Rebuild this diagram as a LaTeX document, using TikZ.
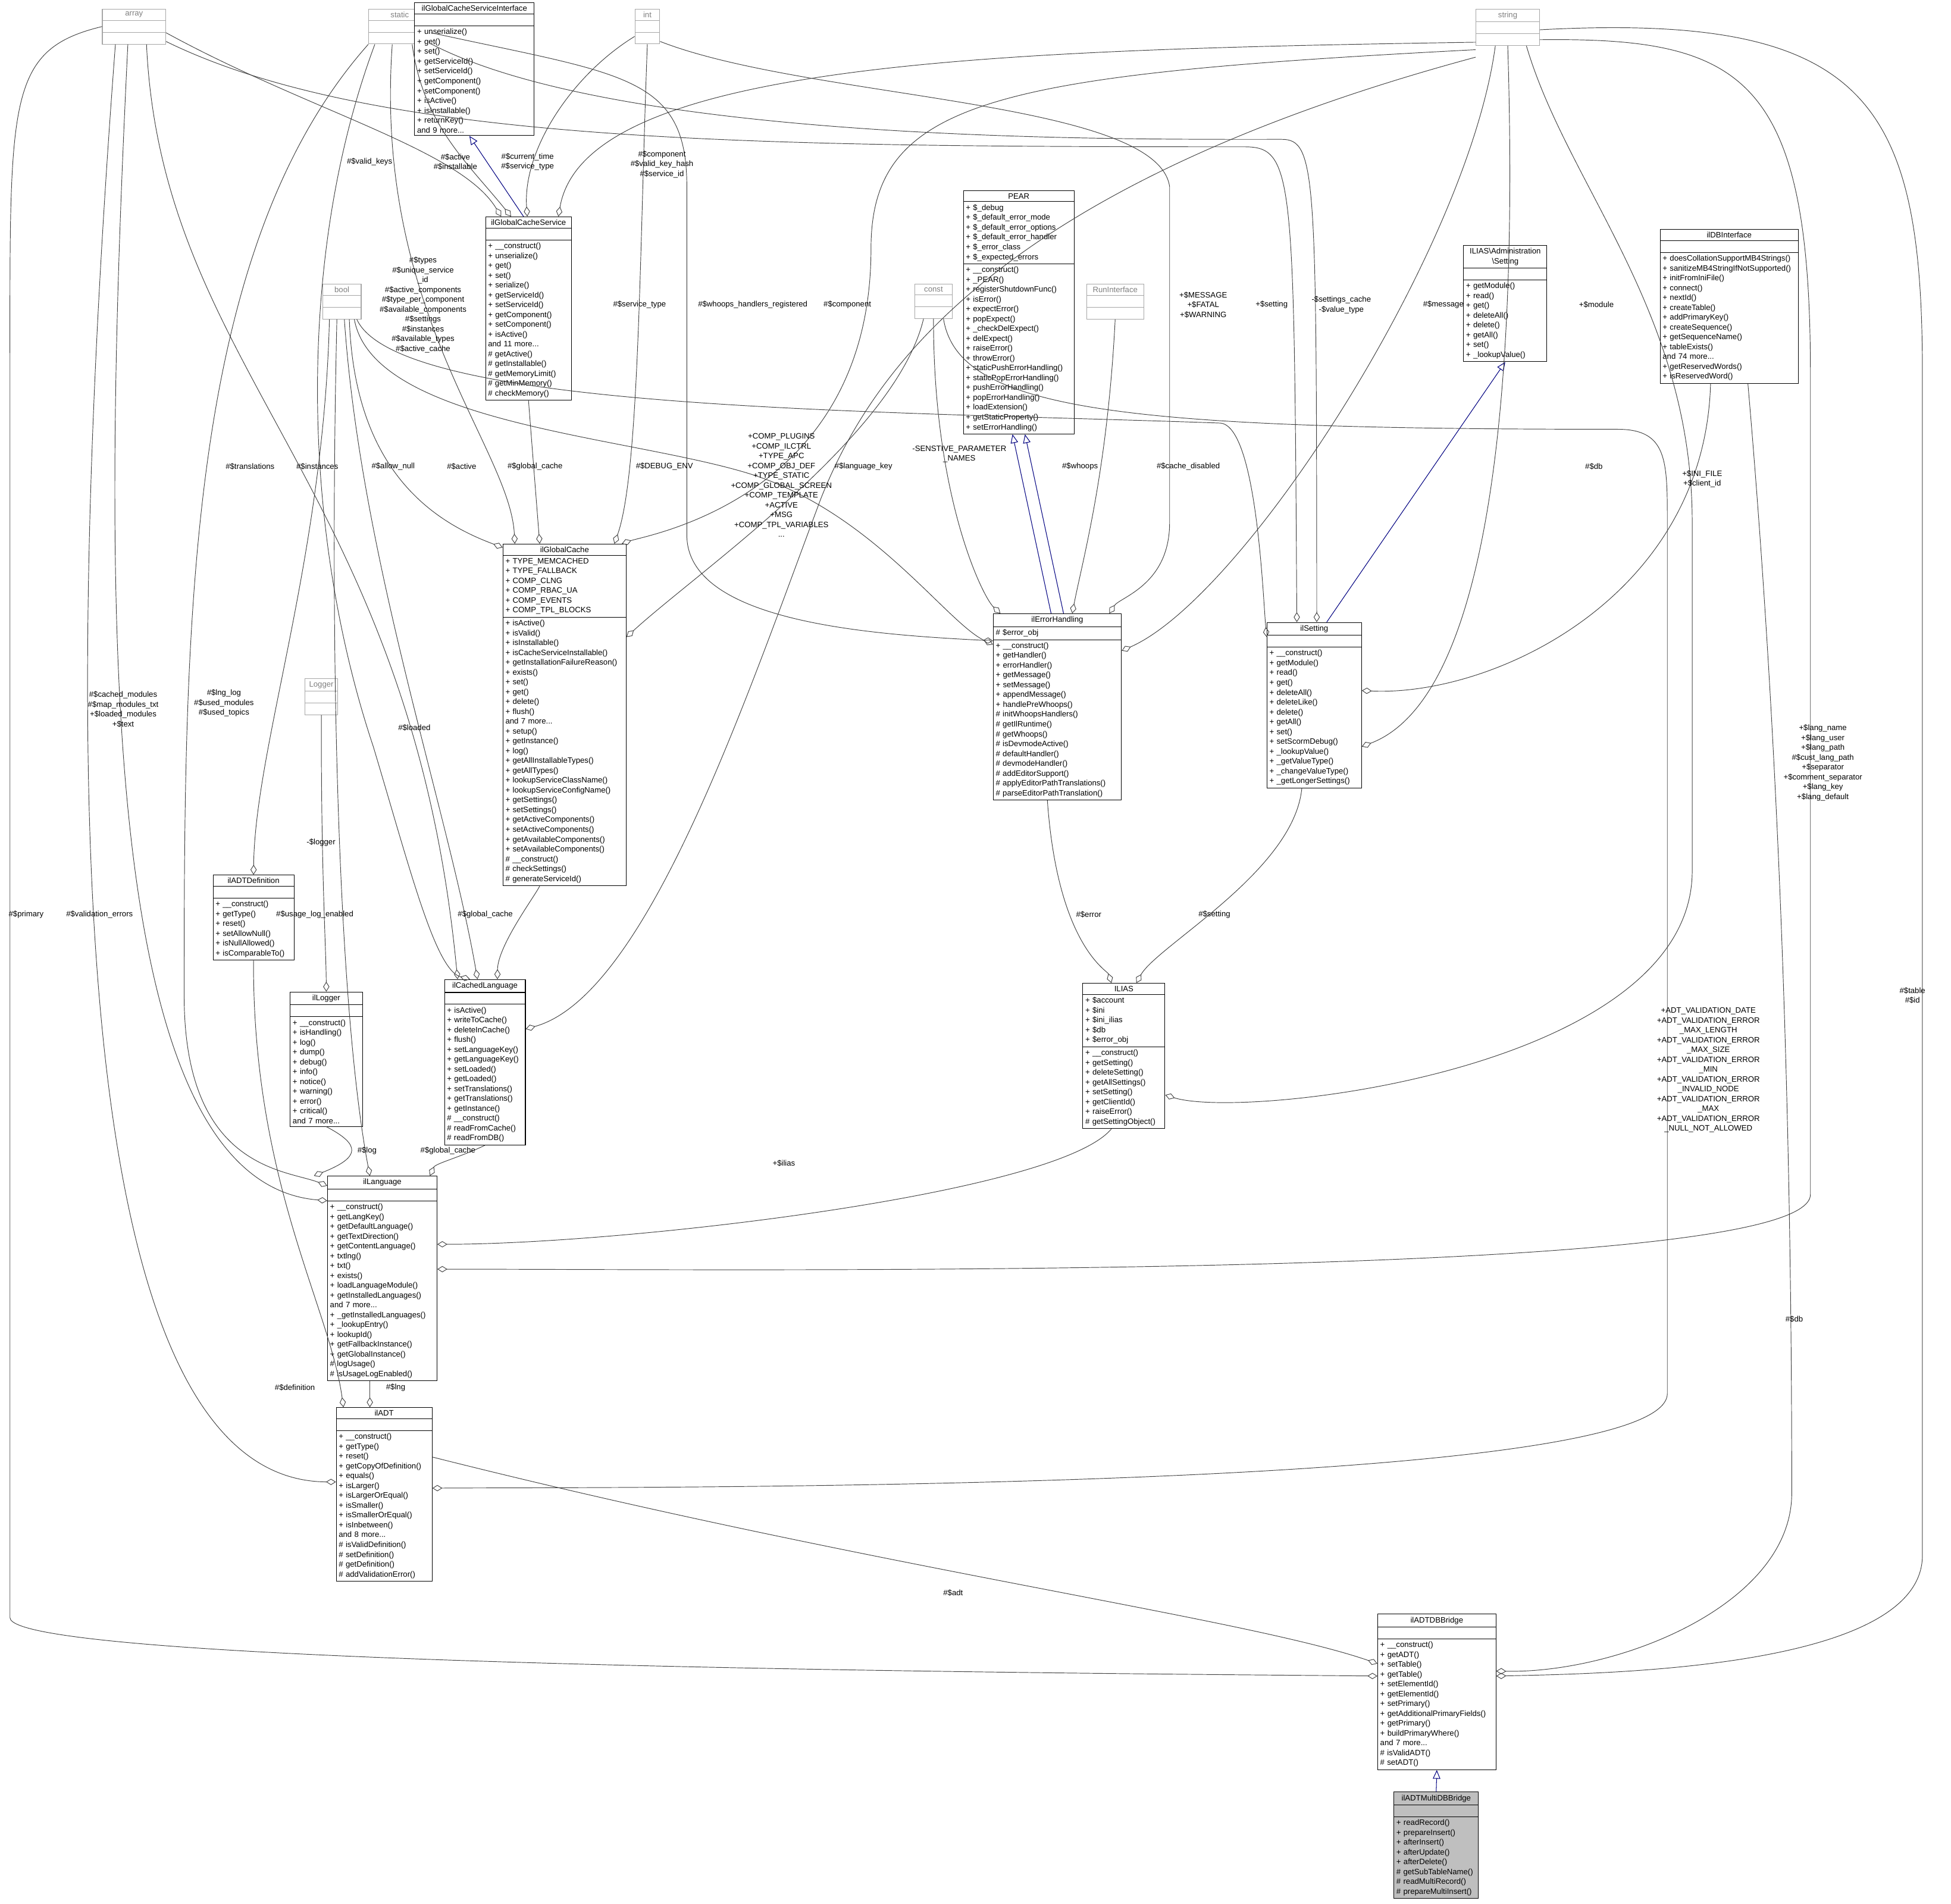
\documentclass[tikz,border=0pt]{standalone}
\usepackage{fontspec}
\setmainfont{Liberation Sans}
\usetikzlibrary{shapes.multipart,arrows.meta}
\newcommand\ttl[1]{\hbox to\hsize{\hss #1\hss}}
\newcommand\emp{\rule{0pt}{5pt}}
\begin{document}
\begin{tikzpicture}[x=1pt,y=-1pt,
 every node/.style={font=\fontsize{6.3}{7.9}\selectfont},
 cls/.style={rectangle split,rectangle split parts=3,draw=black,fill=white,anchor=north west,align=left,inner sep=2pt,line width=0.5pt},
 gcls/.style={cls,draw=gray!70,text=gray},
 agg/.style={draw=black!75,line width=0.45pt,-{Diamond[open,length=8pt,width=5pt]}},
 inh/.style={draw=blue!50!black,line width=0.5pt,-{Triangle[open,length=7pt,width=6pt]}},
 lbl/.style={align=center,inner sep=0pt}]
\useasboundingbox (0,0) rectangle (1568,1530);
% classes
\node[gcls,text width=47pt] (array) at (82,7) {\ttl{array}\nodepart{two}\emp\nodepart{three}\emp};
\node[gcls,text width=46pt] (static) at (296,7) {\ttl{static}\nodepart{two}\emp\nodepart{three}\emp};
\node[gcls,text width=16pt] (int) at (510,7) {\ttl{int}\nodepart{two}\emp\nodepart{three}\emp};
\node[gcls,text width=47pt] (string) at (1186,7) {\ttl{string}\nodepart{two}\emp\nodepart{three}\emp};
\node[gcls,text width=27pt] (bool) at (259,228) {\ttl{bool}\nodepart{two}\emp\nodepart{three}\emp};
\node[gcls,text width=26pt] (const) at (735,228) {\ttl{const}\nodepart{two}\emp\nodepart{three}\emp};
\node[gcls,text width=42pt] (run) at (873,228) {\ttl{RunInterface}\nodepart{two}\emp\nodepart{three}\emp};
\node[gcls,text width=22pt] (logger) at (245,545) {\ttl{Logger}\nodepart{two}\emp\nodepart{three}\emp};
\node[cls,text width=92pt] (gcsi) at (333,2) {\ttl{ilGlobalCacheServiceInterface}\nodepart{two}\emp\nodepart{three}+ unserialize()\\+ get()\\+ set()\\+ getServiceId()\\+ setServiceId()\\+ getComponent()\\+ setComponent()\\+ isActive()\\+ isInstallable()\\+ returnKey()\\and 9 more...};
\node[cls,text width=65pt] (gcs) at (390,174) {\ttl{ilGlobalCacheService}\nodepart{two}\emp\nodepart{three}+ \_\_construct()\\+ unserialize()\\+ get()\\+ set()\\+ serialize()\\+ getServiceId()\\+ setServiceId()\\+ getComponent()\\+ setComponent()\\+ isActive()\\and 11 more...\\\# getActive()\\\# getInstallable()\\\# getMemoryLimit()\\\# getMinMemory()\\\# checkMemory()};
\node[cls,text width=85pt] (pear) at (774,153) {\ttl{PEAR}\nodepart{two}+ \$\_debug\\+ \$\_default\_error\_mode\\+ \$\_default\_error\_options\\+ \$\_default\_error\_handler\\+ \$\_error\_class\\+ \$\_expected\_errors\nodepart{three}+ \_\_construct()\\+ \_PEAR()\\+ registerShutdownFunc()\\+ isError()\\+ expectError()\\+ popExpect()\\+ \_checkDelExpect()\\+ delExpect()\\+ raiseError()\\+ throwError()\\+ staticPushErrorHandling()\\+ staticPopErrorHandling()\\+ pushErrorHandling()\\+ popErrorHandling()\\+ loadExtension()\\+ getStaticProperty()\\+ setErrorHandling()};
\node[cls,text width=63pt] (aset) at (1176,197) {\vbox{\ttl{ILIAS\textbackslash Administration}\ttl{\textbackslash Setting}}\nodepart{two}\emp\nodepart{three}+ getModule()\\+ read()\\+ get()\\+ deleteAll()\\+ delete()\\+ getAll()\\+ set()\\+ \_lookupValue()};
\node[cls,text width=107pt] (db) at (1334,184) {\ttl{ilDBInterface}\nodepart{two}\emp\nodepart{three}+ doesCollationSupportMB4Strings()\\+ sanitizeMB4StringIfNotSupported()\\+ initFromIniFile()\\+ connect()\\+ nextId()\\+ createTable()\\+ addPrimaryKey()\\+ createSequence()\\+ getSequenceName()\\+ tableExists()\\and 74 more...\\+ getReservedWords()\\+ isReservedWord()};
\node[cls,text width=95pt] (gc) at (404,437) {\ttl{ilGlobalCache}\nodepart{two}+ TYPE\_MEMCACHED\\+ TYPE\_FALLBACK\\+ COMP\_CLNG\\+ COMP\_RBAC\_UA\\+ COMP\_EVENTS\\+ COMP\_TPL\_BLOCKS\nodepart{three}+ isActive()\\+ isValid()\\+ isInstallable()\\+ isCacheServiceInstallable()\\+ getInstallationFailureReason()\\+ exists()\\+ set()\\+ get()\\+ delete()\\+ flush()\\and 7 more...\\+ setup()\\+ getInstance()\\+ log()\\+ getAllInstallableTypes()\\+ getAllTypes()\\+ lookupServiceClassName()\\+ lookupServiceConfigName()\\+ getSettings()\\+ setSettings()\\+ getActiveComponents()\\+ setActiveComponents()\\+ getAvailableComponents()\\+ setAvailableComponents()\\\# \_\_construct()\\\# checkSettings()\\\# generateServiceId()};
\node[cls,text width=99pt] (eh) at (798,493) {\ttl{ilErrorHandling}\nodepart{two}\# \$error\_obj\nodepart{three}+ \_\_construct()\\+ getHandler()\\+ errorHandler()\\+ getMessage()\\+ setMessage()\\+ appendMessage()\\+ handlePreWhoops()\\\# initWhoopsHandlers()\\\# getIlRuntime()\\\# getWhoops()\\\# isDevmodeActive()\\\# defaultHandler()\\\# devmodeHandler()\\\# addEditorSupport()\\\# applyEditorPathTranslations()\\\# parseEditorPathTranslation()};
\node[cls,text width=72pt] (set) at (1018,500) {\ttl{ilSetting}\nodepart{two}\emp\nodepart{three}+ \_\_construct()\\+ getModule()\\+ read()\\+ get()\\+ deleteAll()\\+ deleteLike()\\+ delete()\\+ getAll()\\+ set()\\+ setScormDebug()\\+ \_lookupValue()\\+ \_getValueType()\\+ \_changeValueType()\\+ \_getLongerSettings()};
\node[cls,text width=61pt] (adtdef) at (171,703) {\ttl{ilADTDefinition}\nodepart{two}\emp\nodepart{three}+ \_\_construct()\\+ getType()\\+ reset()\\+ setAllowNull()\\+ isNullAllowed()\\+ isComparableTo()};
\node[cls,text width=54pt] (ilog) at (233,797) {\ttl{ilLogger}\nodepart{two}\emp\nodepart{three}+ \_\_construct()\\+ isHandling()\\+ log()\\+ dump()\\+ debug()\\+ info()\\+ notice()\\+ warning()\\+ error()\\+ critical()\\and 7 more...};
\node[cls,text width=61pt] (cl) at (357,787) {\ttl{ilCachedLanguage}\nodepart{two}\emp\nodepart{three}+ isActive()\\+ writeToCache()\\+ deleteInCache()\\+ flush()\\+ setLanguageKey()\\+ getLanguageKey()\\+ setLoaded()\\+ getLoaded()\\+ setTranslations()\\+ getTranslations()\\+ getInstance()\\\# \_\_construct()\\\# readFromCache()\\\# readFromDB()};
\node[cls,text width=62pt] (ias) at (870,790) {\ttl{ILIAS}\nodepart{two}+ \$account\\+ \$ini\\+ \$ini\_ilias\\+ \$db\\+ \$error\_obj\nodepart{three}+ \_\_construct()\\+ getSetting()\\+ deleteSetting()\\+ getAllSettings()\\+ setSetting()\\+ getClientId()\\+ raiseError()\\\# getSettingObject()};
\node[cls,text width=84pt] (lng) at (263,945) {\ttl{ilLanguage}\nodepart{two}\emp\nodepart{three}+ \_\_construct()\\+ getLangKey()\\+ getDefaultLanguage()\\+ getTextDirection()\\+ getContentLanguage()\\+ txtlng()\\+ txt()\\+ exists()\\+ loadLanguageModule()\\+ getInstalledLanguages()\\and 7 more...\\+ \_getInstalledLanguages()\\+ \_lookupEntry()\\+ lookupId()\\+ getFallbackInstance()\\+ getGlobalInstance()\\\# logUsage()\\\# isUsageLogEnabled()};
\node[cls,text width=73pt] (adt) at (270,1131) {\ttl{ilADT}\nodepart{two}\emp\nodepart{three}+ \_\_construct()\\+ getType()\\+ reset()\\+ getCopyOfDefinition()\\+ equals()\\+ isLarger()\\+ isLargerOrEqual()\\+ isSmaller()\\+ isSmallerOrEqual()\\+ isInbetween()\\and 8 more...\\\# isValidDefinition()\\\# setDefinition()\\\# getDefinition()\\\# addValidationError()};
\node[cls,text width=91pt] (br) at (1107,1297) {\ttl{ilADTDBBridge}\nodepart{two}\emp\nodepart{three}+ \_\_construct()\\+ getADT()\\+ setTable()\\+ getTable()\\+ setElementId()\\+ getElementId()\\+ setPrimary()\\+ getAdditionalPrimaryFields()\\+ getPrimary()\\+ buildPrimaryWhere()\\and 7 more...\\\# isValidADT()\\\# setADT()};
\node[cls,fill=gray!50,text width=64pt] (mbr) at (1120,1440) {\ttl{ilADTMultiDBBridge}\nodepart{two}\emp\nodepart{three}+ readRecord()\\+ prepareInsert()\\+ afterInsert()\\+ afterUpdate()\\+ afterDelete()\\\# getSubTableName()\\\# readMultiRecord()\\\# prepareMultiInsert()};
% inheritance
\draw[inh] ([xshift=-4pt]gcs.north) -- ([xshift=-4pt]gcsi.south);
\draw[inh] ([xshift=-5pt]eh.north) -- ([xshift=-5pt]pear.south);
\draw[inh] ([xshift=5pt]eh.north) -- ([xshift=5pt]pear.south);
\draw[inh] ([xshift=10pt]set.north) -- (aset.south);
\draw[inh] (mbr.north) -- (br.south);
% array
\draw[agg] ([yshift=-5pt]array.east) .. controls (250,90) and (370,120) .. ([xshift=-22pt]gcs.north);
\draw[agg] ([yshift=-12pt]array.east) .. controls (300,115) and (600,118) .. (1000,118) .. controls (1040,118) and (1040,140) .. ([xshift=-14pt]set.north);
\draw[agg] ([xshift=10pt]array.south) .. controls (130,300) and (330,390) .. ([xshift=-22pt]cl.north);
\draw[agg] ([xshift=-5pt]array.south) .. controls (80,500) and (80,950) .. ([yshift=-20pt]lng.north west);
\draw[agg] ([xshift=-15pt]array.south) .. controls (50,600) and (50,1190) .. ([yshift=-60pt]adt.north west);
\draw[agg] (array.west) .. controls (5,40) and (8,80) .. (8,300) -- (8,1300) .. controls (8,1340) and (900,1345) .. ([yshift=-50pt]br.north west);
% static
\draw[agg] ([xshift=10pt]static.south) .. controls (340,100) and (375,130) .. ([xshift=-14pt]gcs.north);
\draw[agg] ([xshift=-6pt]static.south) .. controls (300,250) and (410,360) .. ([xshift=-40pt]gc.north);
\draw[agg] ([yshift=-5pt]static.east) .. controls (500,60) and (552,60) .. (552,150) -- (552,430) .. controls (552,500) and (700,510) .. ([yshift=-22pt]eh.north west);
\draw[agg] ([yshift=-14pt]static.east) .. controls (500,115) and (900,112) .. (1030,112) .. controls (1058,112) and (1058,140) .. ([xshift=2pt]set.north);
\draw[agg] ([xshift=-20pt]static.south) .. controls (240,200) and (240,420) .. (300,600) .. controls (330,700) and (350,780) .. ([xshift=-12pt]cl.north);
\draw[agg] (static.south west) .. controls (150,200) and (148,500) .. (148,800) .. controls (148,940) and (230,940) .. ([yshift=-8pt]lng.north west);
% int
\draw[agg] ([yshift=-8pt]int.west) .. controls (460,60) and (420,120) .. ([xshift=-1pt]gcs.north);
\draw[agg] (int.south) .. controls (514,200) and (514,380) .. ([xshift=40pt]gc.north);
\draw[agg] ([yshift=-12pt]int.east) .. controls (650,80) and (930,80) .. (940,150) -- (940,420) .. controls (940,470) and (900,480) .. ([xshift=-10pt]eh.north east);
% string
\draw[agg] ([yshift=-12pt]string.west) .. controls (800,40) and (470,50) .. ([xshift=24pt]gcs.north);
\draw[agg] ([yshift=-18pt]string.west) .. controls (800,60) and (700,80) .. (700,200) .. controls (700,400) and (520,430) .. ([xshift=46pt]gc.north);
\draw[agg] ([xshift=-10pt]string.south) .. controls (1180,200) and (1000,480) .. ([yshift=-30pt]eh.north east);
\draw[agg] (string.south) .. controls (1220,300) and (1200,560) .. ([yshift=-100pt]set.north east);
\draw[agg] ([yshift=-24pt]string.west) .. controls (800,150) and (700,300) .. (660,400) .. controls (600,560) and (520,800) .. ([yshift=-40pt]cl.north east);
\draw[agg] ([xshift=15pt]string.south) .. controls (1260,150) and (1360,250) .. (1360,420) -- (1360,700) .. controls (1360,860) and (1000,900) .. ([yshift=-90pt]ias.north east);
\draw[agg] ([yshift=-10pt]string.east) .. controls (1400,30) and (1455,60) .. (1455,300) -- (1455,960) .. controls (1455,1030) and (600,1020) .. ([yshift=-75pt]lng.north east);
\draw[agg] ([yshift=-2pt]string.east) .. controls (1500,10) and (1545,80) .. (1545,300) -- (1545,1250) .. controls (1545,1340) and (1300,1345) .. ([yshift=-50pt]br.north east);
% bool
\draw[agg] ([xshift=6pt]bool.south) .. controls (285,380) and (350,420) .. ([yshift=-3pt]gc.north west);
\draw[agg] ([xshift=10pt]bool.south) .. controls (300,340) and (500,350) .. (600,380) .. controls (700,410) and (760,500) .. ([yshift=-25pt]eh.north west);
\draw[agg] ([xshift=12pt]bool.south) .. controls (320,330) and (700,330) .. (980,340) .. controls (1010,340) and (1015,480) .. ([yshift=-12pt]set.north west);
\draw[agg] ([xshift=-10pt]bool.south) .. controls (260,450) and (205,600) .. (adtdef.north);
\draw[agg] ([xshift=2pt]bool.south) .. controls (290,450) and (360,650) .. ([xshift=-6pt]cl.north);
\draw[agg] ([xshift=-4pt]bool.south) .. controls (265,500) and (270,800) .. ([xshift=-10pt]lng.north);
% const
\draw[agg] ([xshift=-8pt]const.south) .. controls (720,350) and (560,460) .. ([yshift=-75pt]gc.north east);
\draw[agg] (const.south) .. controls (750,400) and (790,480) .. ([xshift=6pt]eh.north west);
\draw[agg] ([xshift=8pt]const.south) .. controls (770,330) and (900,345) .. (1300,345) .. controls (1340,345) and (1340,370) .. (1340,420) -- (1340,1120) .. controls (1340,1200) and (500,1195) .. ([yshift=-65pt]adt.north east);
% others
\draw[agg] (run.south) .. controls (890,380) and (870,450) .. ([xshift=12pt]eh.north);
\draw[agg] ([xshift=-15pt]db.south) .. controls (1370,480) and (1200,560) .. ([yshift=-55pt]set.north east);
\draw[agg] ([xshift=15pt]db.south) .. controls (1430,600) and (1440,900) .. (1440,1200) .. controls (1440,1290) and (1300,1345) .. ([yshift=-46pt]br.north east);
\draw[agg] (gcs.south) -- ([xshift=-20pt]gc.north);
\draw[agg] ([xshift=-8pt]eh.south) .. controls (850,760) and (890,780) .. ([xshift=-10pt]ias.north);
\draw[agg] ([xshift=-10pt]set.south) .. controls (1040,700) and (930,760) .. ([xshift=10pt]ias.north);
\draw[agg] (logger.south) .. controls (258,700) and (262,760) .. (ilog.north);
\draw[agg] ([xshift=-20pt]gc.south) .. controls (430,720) and (400,760) .. ([xshift=10pt]cl.north);
\draw[agg] (ilog.south) .. controls (290,920) and (290,930) .. ([xshift=-10pt]lng.north east -| ilog.south);
\draw[agg] (cl.south) .. controls (370,930) and (350,935) .. ([xshift=-6pt]lng.north east);
\draw[agg] ([xshift=-10pt]ias.south) .. controls (850,960) and (500,1000) .. ([yshift=-55pt]lng.north east);
\draw[agg] ([xshift=-10pt]lng.south) -- ([xshift=-10pt]adt.north -| lng.south);
\draw[agg] (adtdef.south) .. controls (203,950) and (265,1050) .. ([xshift=6pt]adt.north west);
\draw[agg] ([yshift=-40pt]adt.north east) .. controls (700,1260) and (1000,1300) .. ([yshift=-40pt]br.north west);
% labels
\node[lbl] (l1) at (297,130) {\#\$valid\_keys};
\node[lbl] (l2) at (366,130) {\#\$active\\\#\$installable};
\node[lbl] (l3) at (424,130) {\#\$current\_time\\\#\$service\_type};
\node[lbl] (l4) at (532,132) {\#\$component\\\#\$valid\_key\_hash\\\#\$service\_id};
\node[lbl] (l5) at (340,245) {\#\$types\\\#\$unique\_service\\\_id\\\#\$active\_components\\\#\$type\_per\_component\\\#\$available\_components\\\#\$settings\\\#\$instances\\\#\$available\_types\\\#\$active\_cache};
\node[lbl] (l6) at (514,245) {\#\$service\_type};
\node[lbl] (l7) at (605,245) {\#\$whoops\_handlers\_registered};
\node[lbl] (l8) at (681,245) {\#\$component};
\node[lbl] (l9) at (967,245) {+\$MESSAGE\\+\$FATAL\\+\$WARNING};
\node[lbl] (l10) at (1022,245) {+\$setting};
\node[lbl] (l11) at (1078,245) {-\$settings\_cache\\-\$value\_type};
\node[lbl] (l12) at (1160,245) {\#\$message};
\node[lbl] (l13) at (1283,245) {+\$module};
\node[lbl] (l14) at (430,375) {\#\$global\_cache};
\node[lbl] (l15) at (201,375) {\#\$translations};
\node[lbl] (l16) at (255,375) {\#\$instances};
\node[lbl] (l17) at (316,375) {\#\$allow\_null};
\node[lbl] (l18) at (371,375) {\#\$active};
\node[lbl] (l19) at (534,375) {\#\$DEBUG\_ENV};
\node[lbl] (l20) at (628,390) {+COMP\_PLUGINS\\+COMP\_ILCTRL\\+TYPE\_APC\\+COMP\_OBJ\_DEF\\+TYPE\_STATIC\\+COMP\_GLOBAL\_SCREEN\\+COMP\_TEMPLATE\\+ACTIVE\\+MSG\\+COMP\_TPL\_VARIABLES\\...};
\node[lbl] (l21) at (694,375) {\#\$language\_key};
\node[lbl] (l22) at (771,365) {-SENSTIVE\_PARAMETER\\\_NAMES};
\node[lbl] (l23) at (868,375) {\#\$whoops};
\node[lbl] (l24) at (955,375) {\#\$cache\_disabled};
\node[lbl] (l25) at (1281,375) {\#\$db};
\node[lbl] (l26) at (1368,385) {+\$INI\_FILE\\+\$client\_id};
\node[lbl] (l27) at (1465,613) {+\$lang\_name\\+\$lang\_user\\+\$lang\_path\\\#\$cust\_lang\_path\\+\$separator\\+\$comment\_separator\\+\$lang\_key\\+\$lang\_default};
\node[lbl] (l28) at (99,570) {\#\$cached\_modules\\\#\$map\_modules\_txt\\+\$loaded\_modules\\+\$text};
\node[lbl] (l29) at (180,565) {\#\$lng\_log\\\#\$used\_modules\\\#\$used\_topics};
\node[lbl] (l30) at (333,585) {\#\$loaded};
\node[lbl] (l31) at (258,677) {-\$logger};
\node[lbl] (l32) at (80,735) {\#\$validation\_errors};
\node[lbl] (l33) at (253,735) {\#\$usage\_log\_enabled};
\node[lbl] (l34) at (390,735) {\#\$global\_cache};
\node[lbl] (l35) at (875,735) {\#\$error};
\node[lbl] (l36) at (976,735) {\#\$setting};
\node[lbl] (l37) at (1373,860) {+ADT\_VALIDATION\_DATE\\+ADT\_VALIDATION\_ERROR\\\_MAX\_LENGTH\\+ADT\_VALIDATION\_ERROR\\\_MAX\_SIZE\\+ADT\_VALIDATION\_ERROR\\\_MIN\\+ADT\_VALIDATION\_ERROR\\\_INVALID\_NODE\\+ADT\_VALIDATION\_ERROR\\\_MAX\\+ADT\_VALIDATION\_ERROR\\\_NULL\_NOT\_ALLOWED};
\node[lbl] (l38) at (295,925) {\#\$log};
\node[lbl] (l39) at (360,925) {\#\$global\_cache};
\node[lbl] (l40) at (630,935) {+\$ilias};
\node[lbl] (l41) at (237,1115) {\#\$definition};
\node[lbl] (l42) at (318,1115) {\#\$lng};
\node[lbl] (l43) at (21,735) {\#\$primary};
\node[lbl] (l44) at (766,1280) {\#\$adt};
\node[lbl] (l45) at (1442,1060) {\#\$db};
\node[lbl] (l46) at (1537,800) {\#\$table\\\#\$id};
\end{tikzpicture}
\end{document}
